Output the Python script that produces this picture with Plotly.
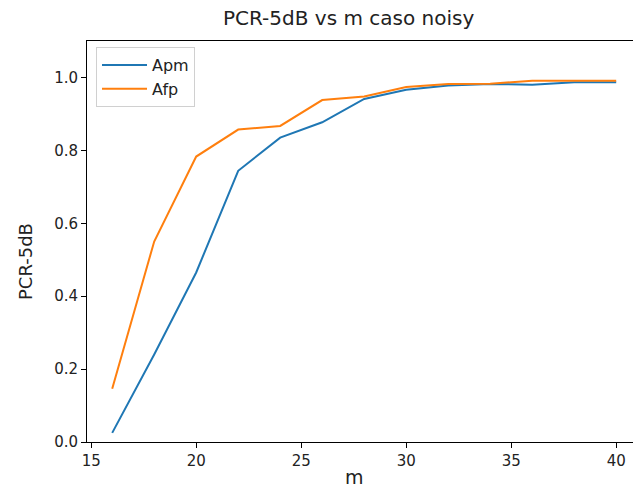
import plotly.graph_objects as go

m_values = [16, 18, 20, 22, 24, 26, 28, 30, 32, 34, 36, 38, 40]
apm = [0.025, 0.24, 0.465, 0.744, 0.835, 0.877, 0.941, 0.966, 0.978, 0.982, 0.980, 0.987, 0.987]
afp = [0.146, 0.55, 0.783, 0.857, 0.867, 0.938, 0.948, 0.974, 0.982, 0.983, 0.991, 0.991, 0.991]

W, H = 633, 488
L, R, T, B = 87, 0, 41, 46

fig = go.Figure()
fig.add_trace(go.Scatter(x=m_values, y=apm, mode="lines", name="Apm",
                         line=dict(color="#1f77b4", width=2)))
fig.add_trace(go.Scatter(x=m_values, y=afp, mode="lines", name="Afp",
                         line=dict(color="#ff7f0e", width=2)))

font = "DejaVu Sans, Verdana, sans-serif"
fig.update_layout(
    width=W, height=H,
    margin=dict(l=L, r=R, t=T, b=B, pad=0),
    paper_bgcolor="white", plot_bgcolor="white",
    font=dict(family=font, size=15, color="#222222"),
    showlegend=True,
    legend=dict(x=0.0165, y=0.985, xanchor="left", yanchor="top",
                bgcolor="rgba(255,255,255,0.8)", bordercolor="#d0d0d0", borderwidth=1,
                font=dict(size=16, family=font, color="#222222"),
                tracegroupgap=0, itemwidth=45),
    xaxis=dict(range=[14.8, 40.8], tickvals=[15, 20, 25, 30, 35, 40],
               showgrid=False, zeroline=False, showline=True, linecolor="black",
               linewidth=1, mirror=True, ticks="outside", ticklen=5, tickcolor="black",
               tickfont=dict(size=15, family=font, color="#222222")),
    yaxis=dict(range=[0, 1.1], tickvals=[0, 0.2, 0.4, 0.6, 0.8, 1.0],
               tickformat=".1f",
               showgrid=False, zeroline=False, showline=True, linecolor="black",
               linewidth=1, mirror=False, ticks="outside", ticklen=5, tickcolor="black",
               tickfont=dict(size=15, family=font, color="#222222")),
    annotations=[
        dict(text="PCR-5dB vs m caso noisy", xref="paper", yref="paper",
             x=(348 - L) / (W - L - R), y=1 + (T - 18) / (H - T - B),
             xanchor="center", yanchor="middle", showarrow=False,
             font=dict(size=20, family=font, color="#222222")),
        dict(text="m", xref="paper", yref="paper",
             x=(354 - L) / (W - L - R), y=-(477 - (H - B)) / (H - T - B),
             xanchor="center", yanchor="middle", showarrow=False,
             font=dict(size=19, family=font, color="#222222")),
        dict(text="PCR-5dB", xref="paper", yref="paper", textangle=-90,
             x=-(L - 25) / (W - L - R), y=(H - B - 262) / (H - T - B),
             xanchor="center", yanchor="middle", showarrow=False,
             font=dict(size=18, family=font, color="#222222")),
    ],
)

fig.write_html("out.html")
